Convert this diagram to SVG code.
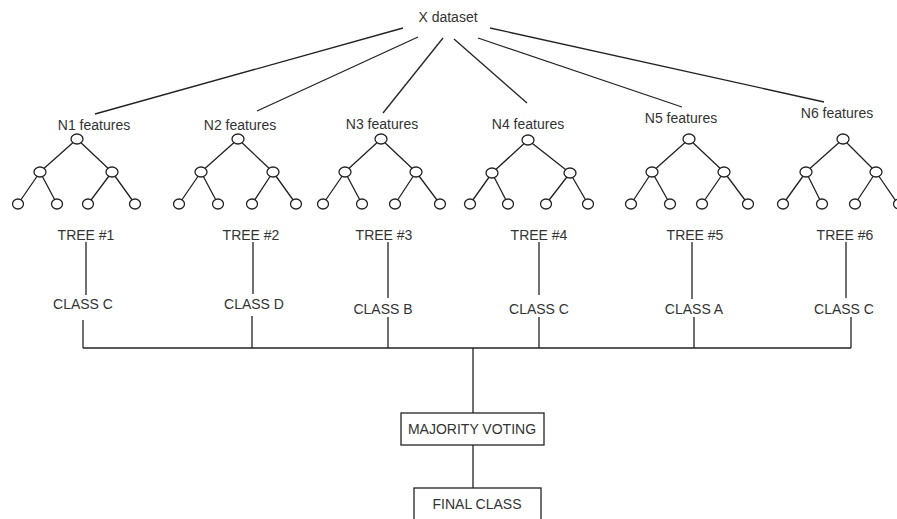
<svg xmlns="http://www.w3.org/2000/svg" width="897" height="519" viewBox="0 0 897 519">
<style>
text{font-family:"Liberation Sans",Arial,sans-serif;font-size:14px;fill:#333;text-anchor:middle}
.e{stroke:#222;stroke-width:1.3;fill:none}
.n{fill:#fff;stroke:#222;stroke-width:1.3}
.b{fill:#fff;stroke:#222;stroke-width:1.3}
</style>
<rect width="897" height="519" fill="#fff"/>
<g id="connectors" class="e">
<line x1="403" y1="28" x2="95" y2="114"/>
<line x1="418" y1="37" x2="257" y2="111"/>
<line x1="443" y1="38" x2="383" y2="113"/>
<line x1="454" y1="39" x2="527" y2="103"/>
<line x1="478" y1="38" x2="682" y2="107"/>
<line x1="490" y1="28" x2="824" y2="102"/>
<line x1="86" y1="242" x2="86" y2="295"/>
<line x1="253" y1="242" x2="253" y2="294"/>
<line x1="388" y1="242" x2="388" y2="298"/>
<line x1="539" y1="242" x2="539" y2="295"/>
<line x1="692" y1="242" x2="692" y2="299"/>
<line x1="846" y1="242" x2="846" y2="298"/>
<line x1="83" y1="320" x2="83" y2="348"/>
<line x1="252" y1="316" x2="252" y2="348"/>
<line x1="388" y1="317" x2="388" y2="348"/>
<line x1="539" y1="317" x2="539" y2="348"/>
<line x1="694" y1="317" x2="694" y2="348"/>
<line x1="851" y1="317" x2="851" y2="348"/>
<line x1="83" y1="348" x2="851" y2="348"/>
<line x1="473" y1="348" x2="473" y2="413"/>
<line x1="473" y1="445" x2="473" y2="488"/>
</g>
<g id="dataset"><text x="448" y="22">X dataset</text></g>
<g id="tree1">
<text x="94" y="130">N1 features</text>
<path class="e" d="M77 139L40 172M77 139L112 172M40 172L18 204M40 172L57 204M112 172L88 204M112 172L135 204"/>
<ellipse class="n" cx="77" cy="139" rx="6" ry="5"/>
<ellipse class="n" cx="40" cy="172" rx="6" ry="5"/><ellipse class="n" cx="112" cy="172" rx="6" ry="5"/>
<ellipse class="n" cx="18" cy="204" rx="5.5" ry="5"/><ellipse class="n" cx="57" cy="204" rx="5.5" ry="5"/><ellipse class="n" cx="88" cy="204" rx="5.5" ry="5"/><ellipse class="n" cx="135" cy="204" rx="5.5" ry="5"/>
<text x="86" y="240">TREE #1</text>
<text x="83" y="309">CLASS C</text>
</g>
<g id="tree2">
<text x="240" y="130">N2 features</text>
<path class="e" d="M238 139L201 172M238 139L273 172M201 172L179 204M201 172L218 204M273 172L252 204M273 172L296 204"/>
<ellipse class="n" cx="238" cy="139" rx="6" ry="5"/>
<ellipse class="n" cx="201" cy="172" rx="6" ry="5"/><ellipse class="n" cx="273" cy="172" rx="6" ry="5"/>
<ellipse class="n" cx="179" cy="204" rx="5.5" ry="5"/><ellipse class="n" cx="218" cy="204" rx="5.5" ry="5"/><ellipse class="n" cx="252" cy="204" rx="5.5" ry="5"/><ellipse class="n" cx="296" cy="204" rx="5.5" ry="5"/>
<text x="251" y="240">TREE #2</text>
<text x="254" y="309">CLASS D</text>
</g>
<g id="tree3">
<text x="382" y="129">N3 features</text>
<path class="e" d="M381 139L345 172M381 139L416 172M345 172L323 204M345 172L362 204M416 172L395 204M416 172L440 204"/>
<ellipse class="n" cx="381" cy="139" rx="6" ry="5"/>
<ellipse class="n" cx="345" cy="172" rx="6" ry="5"/><ellipse class="n" cx="416" cy="172" rx="6" ry="5"/>
<ellipse class="n" cx="323" cy="204" rx="5.5" ry="5"/><ellipse class="n" cx="362" cy="204" rx="5.5" ry="5"/><ellipse class="n" cx="395" cy="204" rx="5.5" ry="5"/><ellipse class="n" cx="440" cy="204" rx="5.5" ry="5"/>
<text x="384" y="240">TREE #3</text>
<text x="383" y="314">CLASS B</text>
</g>
<g id="tree4">
<text x="528" y="129">N4 features</text>
<path class="e" d="M528 140L492 173M528 140L570 173M492 173L470 204M492 173L508 204M570 173L546 204M570 173L588 204"/>
<ellipse class="n" cx="528" cy="140" rx="6" ry="5"/>
<ellipse class="n" cx="492" cy="173" rx="6" ry="5"/><ellipse class="n" cx="570" cy="173" rx="6" ry="5"/>
<ellipse class="n" cx="470" cy="204" rx="5.5" ry="5"/><ellipse class="n" cx="508" cy="204" rx="5.5" ry="5"/><ellipse class="n" cx="546" cy="204" rx="5.5" ry="5"/><ellipse class="n" cx="588" cy="204" rx="5.5" ry="5"/>
<text x="539" y="240">TREE #4</text>
<text x="539" y="314">CLASS C</text>
</g>
<g id="tree5">
<text x="681" y="123">N5 features</text>
<path class="e" d="M689 139L652 172M689 139L724 172M652 172L631 204M652 172L670 204M724 172L702 204M724 172L748 204"/>
<ellipse class="n" cx="689" cy="139" rx="6" ry="5"/>
<ellipse class="n" cx="652" cy="172" rx="6" ry="5"/><ellipse class="n" cx="724" cy="172" rx="6" ry="5"/>
<ellipse class="n" cx="631" cy="204" rx="5.5" ry="5"/><ellipse class="n" cx="670" cy="204" rx="5.5" ry="5"/><ellipse class="n" cx="702" cy="204" rx="5.5" ry="5"/><ellipse class="n" cx="748" cy="204" rx="5.5" ry="5"/>
<text x="695" y="240">TREE #5</text>
<text x="694" y="314">CLASS A</text>
</g>
<g id="tree6">
<text x="837" y="118">N6 features</text>
<path class="e" d="M843 139L806 172M843 139L876 172M806 172L783 204M806 172L822 204M876 172L855 204M876 172L898 204"/>
<ellipse class="n" cx="843" cy="139" rx="6" ry="5"/>
<ellipse class="n" cx="806" cy="172" rx="6" ry="5"/><ellipse class="n" cx="876" cy="172" rx="6" ry="5"/>
<ellipse class="n" cx="783" cy="204" rx="5.5" ry="5"/><ellipse class="n" cx="822" cy="204" rx="5.5" ry="5"/><ellipse class="n" cx="855" cy="204" rx="5.5" ry="5"/><ellipse class="n" cx="899" cy="204" rx="5.5" ry="5"/>
<text x="845" y="240">TREE #6</text>
<text x="844" y="314">CLASS C</text>
</g>
<g id="majority">
<rect class="b" x="401" y="413" width="143" height="32"/>
<text x="472" y="434">MAJORITY VOTING</text>
</g>
<g id="final">
<rect class="b" x="414" y="488" width="127" height="40"/>
<text x="477" y="509">FINAL CLASS</text>
</g>
</svg>
